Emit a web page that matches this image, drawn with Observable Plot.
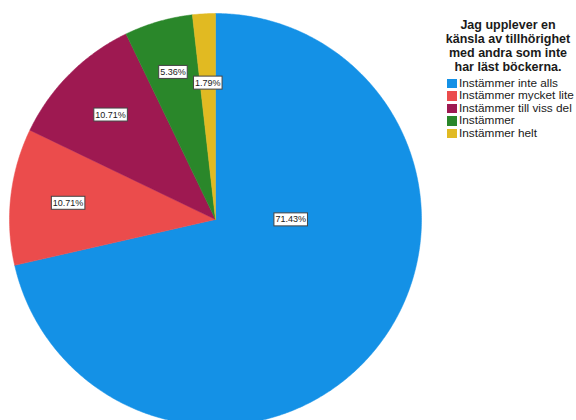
<!DOCTYPE html>
<html><head><meta charset="utf-8">
<script src="https://cdn.jsdelivr.net/npm/d3@7"></script>
<script src="https://cdn.jsdelivr.net/npm/@observablehq/plot@0.6"></script>
<style>
html,body{margin:0;padding:0;background:#fff;overflow:hidden;}
#wrap{position:relative;width:576px;height:420px;overflow:hidden;}
#legend{position:absolute;left:440px;top:18px;width:136px;font-family:"Liberation Sans",Arial,sans-serif;color:#1a1a1a;}
#legend .title{font-weight:bold;font-size:12.5px;line-height:14px;text-align:center;}
#legend .items{margin-top:3px;margin-left:7px;}
#legend .item{display:flex;align-items:center;font-size:11.8px;line-height:13.2px;height:12.6px;white-space:nowrap;}
#legend .sw{width:9.5px;height:9.5px;margin-right:2.5px;flex:none;}
</style></head><body><div id="wrap"></div>
<script>
const categories = ["Instämmer inte alls","Instämmer mycket lite","Instämmer till viss del","Instämmer","Instämmer helt"];
const percents = [71.43, 10.71, 10.71, 5.36, 1.79];
const colors = ["#1491e6","#eb4c4c","#9e1951","#2a872a","#e1ba22"];
const titleLines = ["Jag upplever en","känsla av tillhörighet","med andra som inte","har läst böckerna."];

// slice geometry (unit circle, clockwise from 12 o'clock)
let start = 0;
const slices = categories.map((c, i) => {
  const a0 = start, a1 = start + percents[i] / 100 * 2 * Math.PI;
  start = a1;
  return {c, a0, a1, p: percents[i]};
});
const pts = [];
slices.forEach(s => {
  pts.push({c: s.c, x: 0, y: 0});
  const n = Math.max(2, Math.ceil((s.a1 - s.a0) / (Math.PI / 360)));
  for (let k = 0; k <= n; k++) {
    const a = s.a0 + (s.a1 - s.a0) * k / n;
    pts.push({c: s.c, x: Math.sin(a), y: Math.cos(a)});
  }
  pts.push({c: s.c, x: 0, y: 0});
});
// label placement: along the bisector; very large slice goes to the right;
// tiny neighbouring slices are staggered so their boxes do not collide
const labels = slices.map((s, i) => {
  let a = (s.a0 + s.a1) / 2, rr = 0.72;
  if (s.p > 50) { a = Math.PI / 2; rr = 0.365; }
  else if (s.p < 3) rr = 0.665;
  else if (s.p < 8) rr = 0.745;
  return {x: rr * Math.sin(a), y: rr * Math.cos(a), t: s.p.toFixed(2) + "%"};
});

const cx = 215, cy = 219, r = 206, W = 576, H = 420;
const plot = Plot.plot({
  width: W, height: H,
  marginLeft: 0, marginRight: 0, marginTop: 0, marginBottom: 0,
  x: {domain: [-cx / r, (W - cx) / r], axis: null},
  y: {domain: [-(H - cy) / r, cy / r], axis: null},
  color: {domain: categories, range: colors},
  style: {fontFamily: "'Liberation Sans', Arial, sans-serif", background: "#fff"},
  marks: [
    Plot.line(pts, {x: "x", y: "y", z: "c", fill: "c", stroke: "c", strokeWidth: 0.5, curve: "linear"}),
    Plot.text(labels, {x: "x", y: "y", text: "t", fontSize: 9, fill: "#1a1a1a", className: "pct"})
  ]
});
const wrap = document.getElementById("wrap");
wrap.appendChild(plot);

// white boxes behind the percentage labels
plot.querySelectorAll("g.pct text").forEach(t => {
  const b = t.getBBox();
  const rect = document.createElementNS("http://www.w3.org/2000/svg", "rect");
  rect.setAttribute("x", b.x - 1.5);
  rect.setAttribute("y", b.y - 1.5);
  rect.setAttribute("width", b.width + 3);
  rect.setAttribute("height", b.height + 3);
  rect.setAttribute("fill", "#fff");
  rect.setAttribute("stroke", "#444");
  rect.setAttribute("stroke-width", "1");
  if (t.getAttribute("transform")) rect.setAttribute("transform", t.getAttribute("transform"));
  t.parentNode.insertBefore(rect, t);
});

// legend
const lg = document.createElement("div");
lg.id = "legend";
const tt = document.createElement("div");
tt.className = "title";
tt.innerHTML = titleLines.join("<br>");
lg.appendChild(tt);
const items = document.createElement("div");
items.className = "items";
categories.forEach((c, i) => {
  const it = document.createElement("div");
  it.className = "item";
  const sw = document.createElement("span");
  sw.className = "sw";
  sw.style.background = colors[i];
  it.appendChild(sw);
  it.appendChild(document.createTextNode(c));
  items.appendChild(it);
});
lg.appendChild(items);
wrap.appendChild(lg);
</script>
</body></html>
